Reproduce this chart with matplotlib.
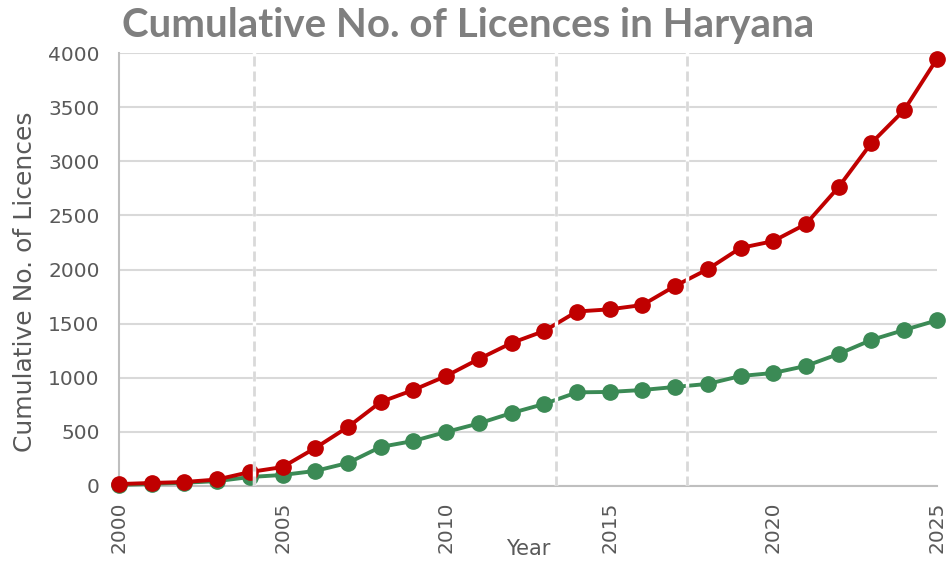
import matplotlib
matplotlib.use("Agg")
import matplotlib.pyplot as plt

years = list(range(2000, 2026))
total = [18, 28, 37, 60, 129, 175, 351, 545, 776, 887, 1016, 1173, 1321, 1432,
         1612, 1632, 1672, 1848, 2003, 2199, 2262, 2420, 2762, 3168, 3472, 3943]
other = [10, 20, 30, 45, 83, 102, 139, 213, 361, 416, 499, 578, 674, 758,
         865, 869, 887, 915, 943, 1016, 1044, 1109, 1220, 1349, 1441, 1530]
marker_years = [2004.13, 2013.36, 2017.36]

RED = "#C00000"
GREEN = "#3B8A55"
TEXT = "#595959"
GRID = "#D9D9D9"

plt.rcParams["font.family"] = ["DejaVu Sans"]

fig = plt.figure(figsize=(9.52, 5.61), dpi=100)
ax = fig.add_axes([0.125, 0.1337, 0.859, 0.7718])

ax.plot(years, other, "-o", color=GREEN, lw=2.8, ms=11, clip_on=False, zorder=3)
ax.plot(years, total, "-o", color=RED, lw=2.8, ms=11, clip_on=False, zorder=3)

for xv in marker_years:
    ax.axvline(xv, color="white", lw=2.5, zorder=4)
    ax.axvline(xv, color=GRID, lw=2, ls=(0, (3.6, 1.8)), zorder=5)

ax.set_xlim(2000, 2025)
ax.set_ylim(0, 4000)
ax.set_xticks(range(2000, 2026, 5))
ax.set_yticks(range(0, 4001, 500))
ax.tick_params(axis="x", labelrotation=90, length=0, pad=11, labelsize=14.5, labelcolor=TEXT)
ax.tick_params(axis="y", length=0, pad=14, labelsize=14.5, labelcolor=TEXT)
ax.grid(axis="y", color=GRID, lw=1.5)
ax.set_axisbelow(True)
for side in ["top", "right"]:
    ax.spines[side].set_visible(False)
for side in ["left", "bottom"]:
    ax.spines[side].set_color("#BFBFBF")
    ax.spines[side].set_linewidth(1.5)

fig.text(25 / 952, 1 - 282 / 561, "Cumulative No. of Licences", fontsize=18,
         color=TEXT, rotation=90, ha="center", va="center")
fig.text(528 / 952, 1 - 549 / 561, "Year", fontsize=15, color=TEXT,
         ha="center", va="center")
fig.text(468 / 952, 1 - 37 / 561, "Cumulative No. of Licences in Haryana",
         fontsize=29, fontweight="bold", color="#7F7F7F", ha="center",
         va="baseline", family=["Lato", "DejaVu Sans"])

fig.savefig("out.png", dpi=100)
